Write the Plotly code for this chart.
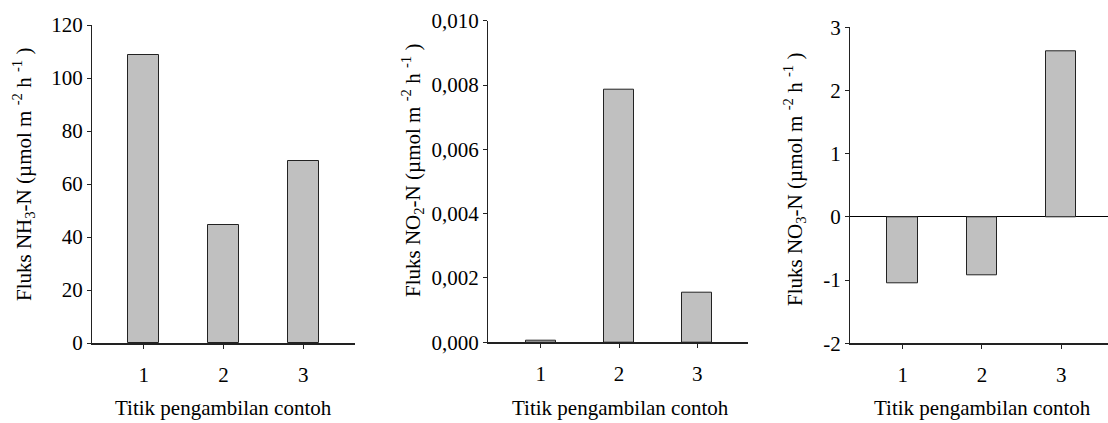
import plotly.graph_objects as go

sites = [1, 2, 3]
site_labels = ["1", "2", "3"]
nh3 = [108.5, 44.6, 68.5]
no2 = [0.00004, 0.00787, 0.00155]
no3 = [-1.05, -0.92, 2.62]

nh3_ticks = [0, 20, 40, 60, 80, 100, 120]
nh3_ticktext = ["0", "20", "40", "60", "80", "100", "120"]
no2_ticks = [0, 0.002, 0.004, 0.006, 0.008, 0.010]
no2_ticktext = ["0,000", "0,002", "0,004", "0,006", "0,008", "0,010"]
no3_ticks = [-2, -1, 0, 1, 2, 3]
no3_ticktext = ["-2", "-1", "0", "1", "2", "3"]

x_title = "Titik pengambilan contoh"
y_titles = [
    "Fluks NH<sub>3</sub>-N (µmol m <sup>-2</sup> h <sup>-1</sup> )",
    "Fluks NO<sub>2</sub>-N (µmol m <sup>-2</sup> h <sup>-1</sup> )",
    "Fluks NO<sub>3</sub>-N (µmol m <sup>-2</sup> h <sup>-1</sup> )",
]

W, H = 1108, 423
FONT = "'Liberation Serif', 'Times New Roman', 'DejaVu Serif', serif"
BAR = "#c0c0c0"

fig = go.Figure()
series = [nh3, no2, no3]
for i, vals in enumerate(series):
    fig.add_trace(go.Bar(
        x=sites, y=vals, width=0.385,
        marker=dict(color=BAR, line=dict(color="#222222", width=1)),
        xaxis="x" if i == 0 else f"x{i+1}",
        yaxis="y" if i == 0 else f"y{i+1}",
        showlegend=False,
    ))

xdom_px = [(92, 355), (488, 748), (850, 1108)]
ydom_px = [(25, 343), (20.7, 342.3), (27.3, 343.3)]  # top, bottom
xranges = [[0.35, 3.65], [0.324, 3.65], [0.335, 3.59]]
yranges = [[0, 120], [0, 0.010], [-2, 3]]
yticks = [(nh3_ticks, nh3_ticktext), (no2_ticks, no2_ticktext), (no3_ticks, no3_ticktext)]

layout = dict(
    width=W, height=H, margin=dict(l=0, r=0, t=0, b=0, autoexpand=False),
    paper_bgcolor="white", plot_bgcolor="white",
    font=dict(family=FONT, size=21, color="black"),
    bargap=0,
)

axis_line = "#222222"
for i in range(3):
    xs = "" if i == 0 else str(i + 1)
    x0, x1 = xdom_px[i]
    t, b = ydom_px[i]
    layout[f"xaxis{xs}"] = dict(
        domain=[x0 / W, min(x1 / W, 1.0)], range=xranges[i],
        anchor=f"y{xs}", tickvals=sites, ticktext=site_labels,
        showline=True, linecolor=axis_line, linewidth=1.5,
        ticks="outside", ticklen=4, tickcolor=axis_line,
        ticklabelstandoff=8,
        showgrid=False, zeroline=False, fixedrange=True, automargin=False,
    )
    layout[f"yaxis{xs}"] = dict(
        domain=[(H - b) / H, (H - t) / H], range=yranges[i],
        anchor=f"x{xs}", tickvals=yticks[i][0], ticktext=yticks[i][1],
        showline=True, linecolor=axis_line, linewidth=1,
        ticks="outside", ticklen=4, tickcolor=axis_line,
        showgrid=False, zeroline=(i == 2), zerolinecolor="black",
        zerolinewidth=1, fixedrange=True, automargin=False,
    )

ann = []
xt_centers = [224, 620, 982]
yt_centers = [(23, 175), (412, 171), (795, 180)]
for i in range(3):
    ann.append(dict(
        x=xt_centers[i] / W, y=(H - 408) / H, xref="paper", yref="paper",
        text=x_title, showarrow=False, xanchor="center", yanchor="middle",
        font=dict(family=FONT, size=21, color="black"),
    ))
    cx, cy = yt_centers[i]
    ann.append(dict(
        x=cx / W, y=(H - cy) / H, xref="paper", yref="paper",
        text=y_titles[i], showarrow=False, textangle=-90,
        xanchor="center", yanchor="middle",
        font=dict(family=FONT, size=21, color="black"),
    ))
layout["annotations"] = ann

fig.update_layout(**layout)
fig.write_html("out.html")
